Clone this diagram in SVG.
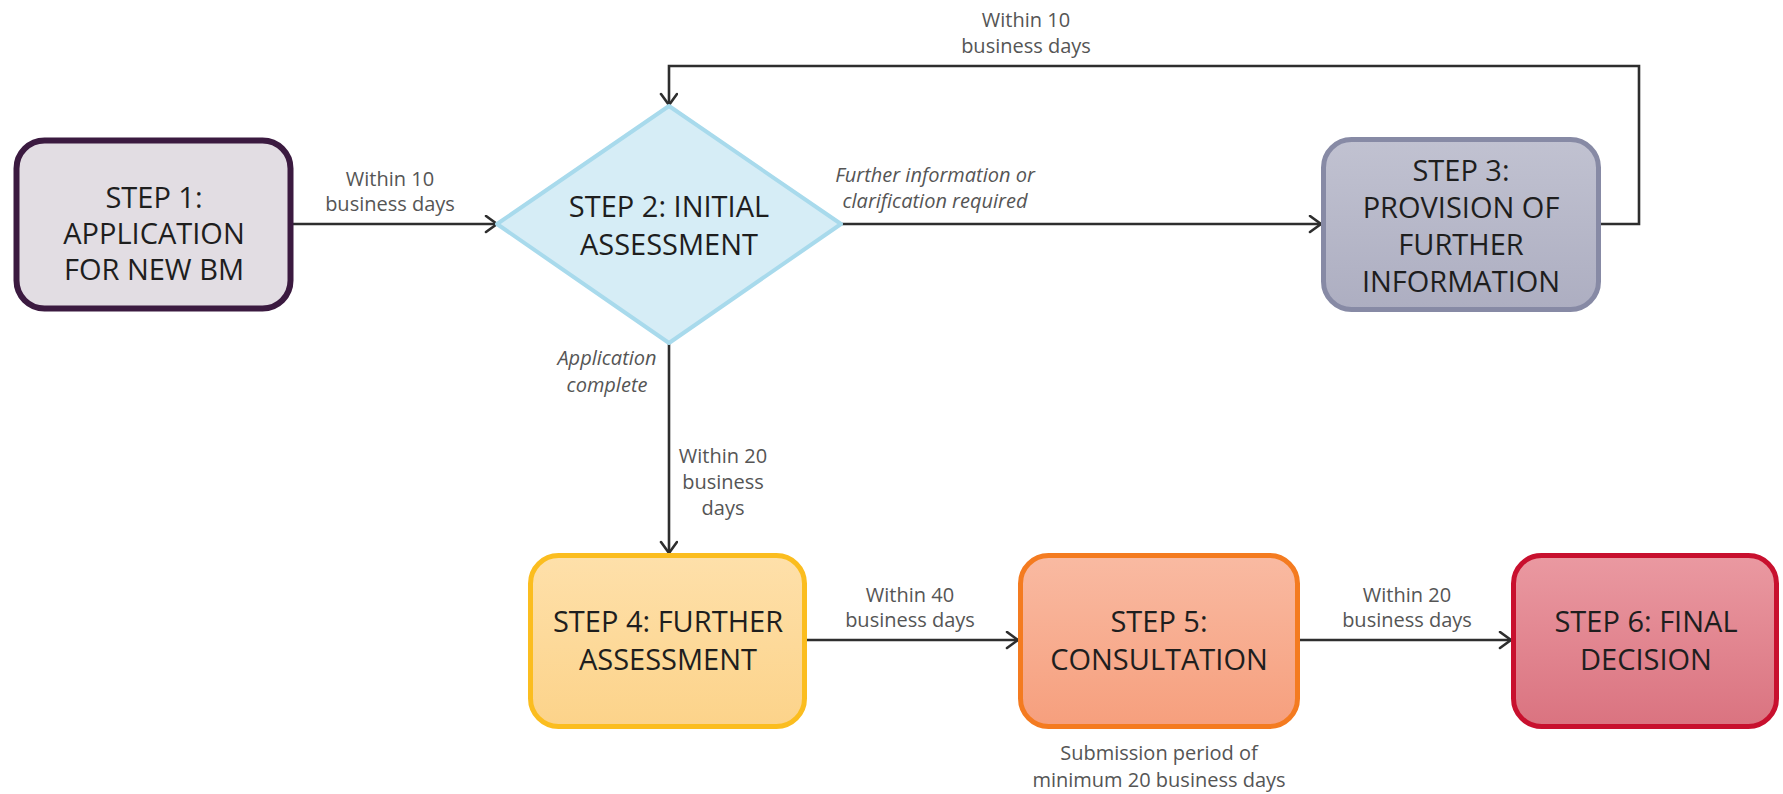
<svg xmlns="http://www.w3.org/2000/svg" width="1783" height="794" viewBox="0 0 1783 794">
<defs>
<linearGradient id="g3" x1="0" y1="0" x2="0" y2="1"><stop offset="0" stop-color="#c1c2d1"/><stop offset="1" stop-color="#adaec1"/></linearGradient>
<linearGradient id="g4" x1="0" y1="0" x2="0" y2="1"><stop offset="0" stop-color="#fee0aa"/><stop offset="1" stop-color="#fcd38a"/></linearGradient>
<linearGradient id="g5" x1="0" y1="0" x2="0" y2="1"><stop offset="0" stop-color="#f9baa2"/><stop offset="1" stop-color="#f69f7d"/></linearGradient>
<linearGradient id="g6" x1="0" y1="0" x2="0" y2="1"><stop offset="0" stop-color="#ea99a1"/><stop offset="1" stop-color="#da7380"/></linearGradient>
<marker id="arr" markerUnits="userSpaceOnUse" markerWidth="16" markerHeight="20" refX="13" refY="9" orient="auto" viewBox="0 0 16 20">
<path d="M2,1 L13,9 L2,17" fill="none" stroke="#2e2e2e" stroke-width="2.6" stroke-linecap="round" stroke-linejoin="miter"/>
</marker>
<style>
.box{stroke-width:5}
.nt{font-family:"Open Sans","Noto Sans",sans-serif;font-size:29px;fill:#1e1e1e;text-anchor:middle}
.lb{font-family:"Open Sans","Noto Sans",sans-serif;font-size:20px;fill:#555;text-anchor:middle}
.it{font-style:italic}
.cn{fill:none;stroke:#2e2e2e;stroke-width:2.6}
</style>
</defs>
<rect width="1783" height="794" fill="#ffffff"/>

<g id="connectors">
<line class="cn" x1="293" y1="224" x2="497" y2="224" marker-end="url(#arr)"/>
<line class="cn" x1="841" y1="224" x2="1321" y2="224" marker-end="url(#arr)"/>
<polyline class="cn" points="1600,224 1639,224 1639,66 669,66 669,105" marker-end="url(#arr)"/>
<line class="cn" x1="669" y1="343" x2="669" y2="553" marker-end="url(#arr)"/>
<line class="cn" x1="807" y1="640" x2="1018" y2="640" marker-end="url(#arr)"/>
<line class="cn" x1="1300" y1="640" x2="1511" y2="640" marker-end="url(#arr)"/>
<text class="lb" x="390" y="186">Within 10</text>
<text class="lb" x="390" y="211">business days</text>
<text class="lb" x="1026" y="27">Within 10</text>
<text class="lb" x="1026" y="53">business days</text>
<text class="lb it" x="935" y="182">Further information or</text>
<text class="lb it" x="935" y="208">clarification required</text>
<text class="lb it" x="607" y="365">Application</text>
<text class="lb it" x="607" y="392">complete</text>
<text class="lb" x="723" y="463">Within 20</text>
<text class="lb" x="723" y="489">business</text>
<text class="lb" x="723" y="515">days</text>
<text class="lb" x="910" y="602">Within 40</text>
<text class="lb" x="910" y="627">business days</text>
<text class="lb" x="1407" y="602">Within 20</text>
<text class="lb" x="1407" y="627">business days</text>
<text class="lb" x="1159" y="760">Submission period of</text>
<text class="lb" x="1159" y="787">minimum 20 business days</text>
</g>

<g id="step1">
<rect class="box" x="16.5" y="140.5" width="274" height="168" rx="28" fill="#e2dde3" stroke="#3b1a40" style="stroke-width:6"/>
<text class="nt" x="154" y="208">STEP 1:</text>
<text class="nt" x="154" y="244">APPLICATION</text>
<text class="nt" x="154" y="280">FOR NEW BM</text>
</g>

<g id="step2">
<polygon points="669,106 841,224 669,343 497,224" fill="#d6edf6" stroke="#a8daec" stroke-width="4" stroke-linejoin="round"/>
<text class="nt" x="669" y="217">STEP 2: INITIAL</text>
<text class="nt" x="669" y="255">ASSESSMENT</text>
</g>

<g id="step3">
<rect class="box" x="1323.5" y="139.5" width="275" height="170" rx="28" fill="url(#g3)" stroke="#878aa5"/>
<text class="nt" x="1461" y="181">STEP 3:</text>
<text class="nt" x="1461" y="218">PROVISION OF</text>
<text class="nt" x="1461" y="255">FURTHER</text>
<text class="nt" x="1461" y="292">INFORMATION</text>
</g>

<g id="step4">
<rect class="box" x="530.5" y="555.5" width="274" height="171" rx="28" fill="url(#g4)" stroke="#fbbd1f"/>
<text class="nt" x="668" y="632">STEP 4: FURTHER</text>
<text class="nt" x="668" y="670">ASSESSMENT</text>
</g>

<g id="step5">
<rect class="box" x="1020.5" y="555.5" width="277" height="171" rx="28" fill="url(#g5)" stroke="#f47b20"/>
<text class="nt" x="1159" y="632">STEP 5:</text>
<text class="nt" x="1159" y="670">CONSULTATION</text>
</g>

<g id="step6">
<rect class="box" x="1513.5" y="555.5" width="263" height="171" rx="28" fill="url(#g6)" stroke="#c8102e"/>
<text class="nt" x="1646" y="632">STEP 6: FINAL</text>
<text class="nt" x="1646" y="670">DECISION</text>
</g>
</svg>
